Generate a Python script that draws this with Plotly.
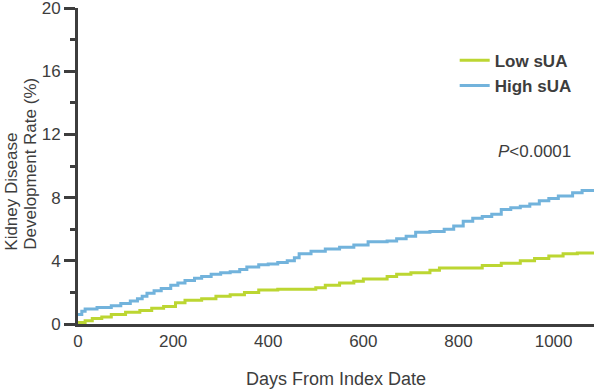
import plotly.graph_objects as go

high_days = [0, 8, 15, 40, 70, 90, 110, 125, 135, 145, 160, 175, 195, 210, 225, 245, 260, 280, 300, 320,
             340, 355, 380, 400, 420, 440, 455, 465, 490, 520, 550, 580, 610, 650, 670, 690, 710, 740,
             770, 790, 810, 830, 850, 870, 890, 910, 930, 950, 970, 990, 1010, 1040, 1060, 1085]
high_rate = [0.6, 0.8, 0.95, 1.05, 1.15, 1.3, 1.45, 1.6, 1.75, 1.95, 2.1, 2.25, 2.45, 2.6, 2.75, 2.9, 3.0,
             3.15, 3.25, 3.3, 3.45, 3.6, 3.75, 3.8, 3.9, 4.0, 4.2, 4.45, 4.6, 4.75, 4.85, 5.0, 5.2, 5.25,
             5.4, 5.55, 5.8, 5.85, 6.0, 6.2, 6.5, 6.7, 6.8, 6.95, 7.25, 7.35, 7.45, 7.6, 7.8, 7.95, 8.1,
             8.3, 8.45, 8.45]

low_days = [0, 15, 30, 50, 70, 100, 130, 155, 180, 205, 225, 260, 290, 320, 350, 380, 420, 500, 520, 550,
            580, 600, 650, 670, 700, 740, 760, 850, 890, 930, 960, 990, 1020, 1050, 1085]
low_rate = [0.1, 0.2, 0.35, 0.45, 0.6, 0.75, 0.85, 1.0, 1.1, 1.35, 1.5, 1.6, 1.75, 1.85, 2.0, 2.15, 2.2,
            2.3, 2.45, 2.6, 2.7, 2.85, 3.0, 3.15, 3.25, 3.4, 3.55, 3.7, 3.85, 4.0, 4.15, 4.3, 4.45, 4.5, 4.55]

x_ticks = [0, 200, 400, 600, 800, 1000]
y_ticks = [0, 4, 8, 12, 16, 20]
y_minor = [2, 6, 10, 14, 18]

axis_col = "#3d3d3d"
font_fam = "Liberation Sans, Arial, sans-serif"

fig = go.Figure()
fig.add_trace(go.Scatter(x=low_days, y=low_rate, mode="lines", line=dict(shape="hv", color="#bcd632", width=3),
                         name="<b>Low sUA</b>"))
fig.add_trace(go.Scatter(x=high_days, y=high_rate, mode="lines", line=dict(shape="hv", color="#72b3dc", width=3),
                         name="<b>High sUA</b>"))

fig.update_layout(
    width=596, height=392,
    margin=dict(l=78, r=2, t=8, b=68),
    plot_bgcolor="white", paper_bgcolor="white",
    font=dict(family=font_fam, size=17, color=axis_col),
    legend=dict(x=0.73, y=0.89, xanchor="left", yanchor="top", bgcolor="rgba(0,0,0,0)",
                font=dict(size=17, color=axis_col), itemwidth=30, tracegroupgap=0),
    xaxis=dict(range=[0, 1085], tickvals=x_ticks, showgrid=False, zeroline=False, automargin=False,
               showline=True, linecolor=axis_col, linewidth=3, ticks="", tickfont=dict(size=17),
               ticklabeloverflow="allow",
               title=dict(text="Days From Index Date", standoff=22, font=dict(size=18))),
    yaxis=dict(range=[0, 20], tickvals=y_ticks, showgrid=False, zeroline=False, automargin=False,
               showline=True, linecolor=axis_col, linewidth=3, ticks="outside", ticklen=11,
               tickwidth=3, tickcolor=axis_col, tickfont=dict(size=17), ticklabeloverflow="allow",
               minor=dict(tickvals=y_minor, ticks="outside", ticklen=5, tickwidth=3,
                          tickcolor=axis_col)),
    annotations=[
        dict(text="Kidney Disease", xref="paper", yref="paper",
             x=-0.129, y=0.227, textangle=-90, showarrow=False, xanchor="center", yanchor="bottom",
             font=dict(size=17, color=axis_col)),
        dict(text="Development Rate (%)", xref="paper", yref="paper",
             x=-0.092, y=0.227, textangle=-90, showarrow=False, xanchor="center", yanchor="bottom",
             font=dict(size=17, color=axis_col)),
        dict(text="<i>P</i><0.0001", xref="paper", yref="paper", x=0.81, y=0.545,
             xanchor="left", yanchor="middle", showarrow=False, font=dict(size=17, color=axis_col)),
    ],
)

fig.write_html("out.html", config={"displayModeBar": False},
               post_script="document.body.style.margin='0px';")
